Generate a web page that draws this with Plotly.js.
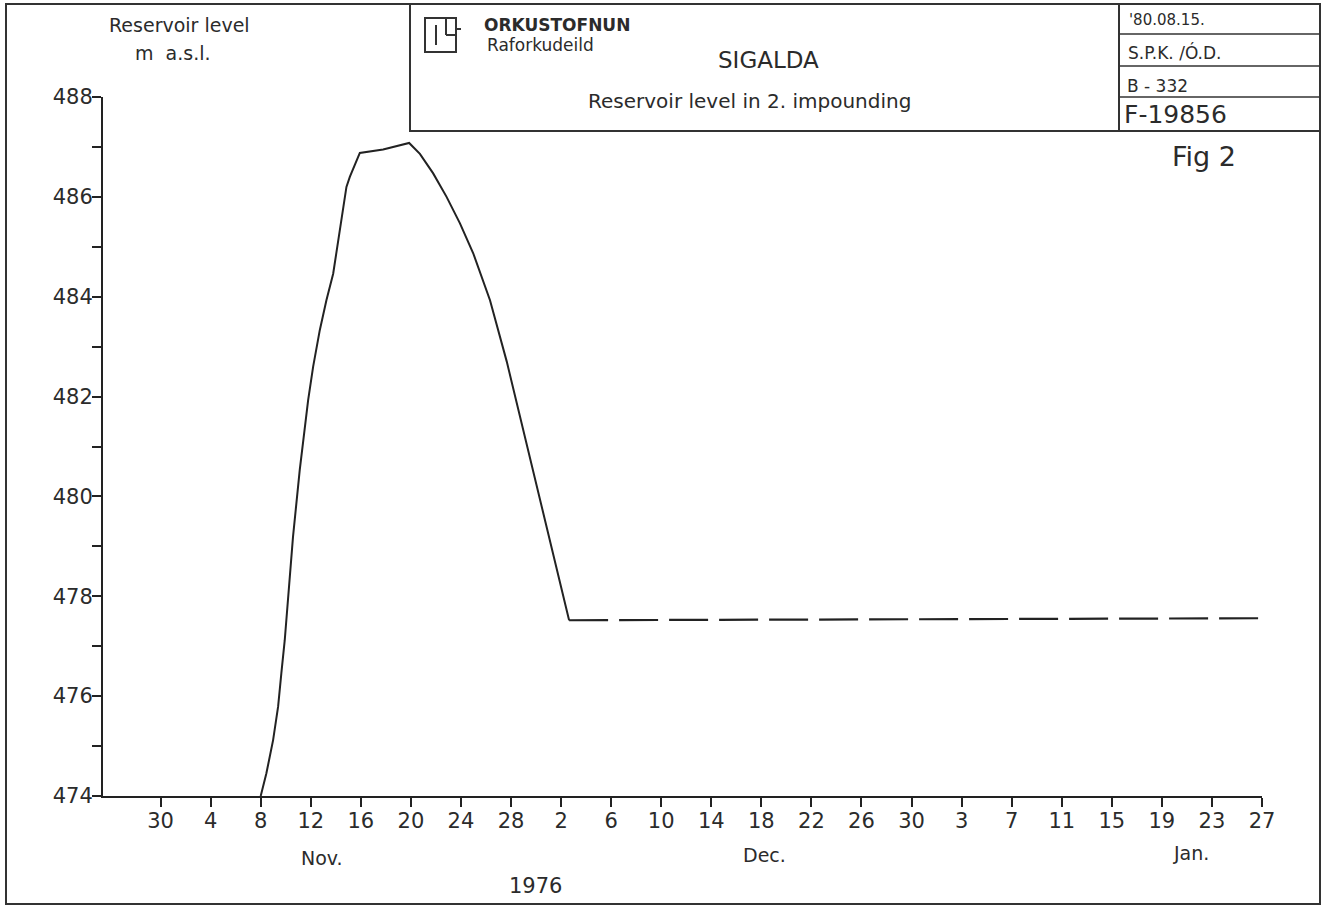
<!DOCTYPE html>
<html>
<head>
<meta charset="utf-8">
<script src="https://cdn.plot.ly/plotly-3.0.1.min.js"></script>
<style>
  html, body { margin: 0; padding: 0; background: #ffffff; }
  #chart { width: 1327px; height: 908px; }
</style>
</head>
<body>
<div id="chart"></div>
<script>
// Sigalda reservoir, second impounding (autumn 1976).
// Time is counted in days from 8 November 1976.
const riseFallDays = [0, 0.45, 0.99, 1.39, 1.65, 1.92, 2.58, 3.12, 3.79, 4.19, 4.72, 5.25,
  5.79, 6.32, 6.85, 7.12, 7.92, 9.78, 11.86, 12.72, 13.78, 14.85, 15.92, 16.98, 18.32,
  19.66, 20.72, 21.78, 23.69, 24.64];
const riseFallLevel = [474.0, 474.45, 475.12, 475.79, 476.46, 477.12, 479.19, 480.53, 481.93,
  482.6, 483.33, 483.93, 484.46, 485.33, 486.2, 486.4, 486.88, 486.95, 487.08, 486.86,
  486.47, 486.0, 485.47, 484.87, 483.93, 482.7, 481.6, 480.45, 478.5, 477.52];

// Level held afterwards (drawn dashed)
const heldDays = [24.64, 80];
const heldLevel = [477.52, 477.56];

// Date ticks every fourth day
const tickDays = [-8, -4, 0, 4, 8, 12, 16, 20, 24, 28, 32, 36, 40, 44, 48, 52, 56, 60, 64, 68, 72, 76, 80];
const tickLabels = ['30', '4', '8', '12', '16', '20', '24', '28', '2', '6', '10', '14', '18', '22',
  '26', '30', '3', '7', '11', '15', '19', '23', '27'];

// Plot frame in pixels
const PAGE_W = 1327, PAGE_H = 908;
const L = 103, R = 1262, T = 97, B = 796;
const W = R - L, H = B - T;
const px = x => (x - L) / W;          // pixel x -> paper x
const py = y => (B - y) / H;          // pixel y -> paper y

const FONT = 'DejaVu Sans, Liberation Sans, sans-serif';
const INK = '#2b2b2b';
const LINE = '#222222';

const traces = [
  {
    x: riseFallDays, y: riseFallLevel, type: 'scatter', mode: 'lines',
    line: { color: LINE, width: 2 }, hoverinfo: 'skip', showlegend: false
  },
  {
    x: heldDays, y: heldLevel, type: 'scatter', mode: 'lines',
    line: { color: LINE, width: 2.2, dash: '39px,11px' }, hoverinfo: 'skip', showlegend: false
  }
];

function text(t, x, y, size, opts) {
  return Object.assign({
    text: t, xref: 'paper', yref: 'paper', x: px(x), y: py(y),
    xanchor: 'center', yanchor: 'middle', showarrow: false,
    font: { family: FONT, size: size, color: INK }
  }, opts || {});
}
function rect(x0, y0, x1, y1, w) {
  return { type: 'rect', xref: 'paper', yref: 'paper', x0: px(x0), x1: px(x1), y0: py(y0), y1: py(y1),
    line: { color: '#333', width: w || 2 }, fillcolor: 'rgba(0,0,0,0)', layer: 'above' };
}
function seg(x0, y0, x1, y1, w) {
  return { type: 'line', xref: 'paper', yref: 'paper', x0: px(x0), x1: px(x1), y0: py(y0), y1: py(y1),
    line: { color: '#333', width: w || 2 }, layer: 'above' };
}

const shapes = [
  rect(6, 4, 1320, 904, 2),          // sheet border
  rect(410, 4, 1320, 131, 2),        // title block
  seg(1119, 4, 1119, 131, 2),        // right column of the title block
  seg(1119, 34, 1320, 34, 1.5),
  seg(1119, 66, 1320, 66, 1.5),
  seg(1119, 97, 1320, 97, 1.5),
  // ORKUSTOFNUN mark
  rect(425, 18, 456, 52, 2),
  seg(436, 25, 436, 45, 2),
  seg(446, 18, 446, 35, 2),
  seg(446, 35, 456, 35, 2),
  seg(456, 29, 461, 29, 2)
];

const annotations = [
  text('Reservoir level', 179, 25, 19),
  text('m  a.s.l.', 173, 53, 19),
  text('<b>ORKUSTOFNUN</b>', 482, 25, 17, { xanchor: 'left' }),
  text('Raforkudeild', 485, 45, 17, { xanchor: 'left' }),
  text('SIGALDA', 768, 60, 23),
  text('Reservoir level in 2. impounding', 749, 101, 20),
  text("'80.08.15.", 1127, 20, 15, { xanchor: 'left' }),
  text('S.P.K. /Ó.D.', 1126, 52, 17, { xanchor: 'left' }),
  text('B - 332', 1125, 86, 17, { xanchor: 'left' }),
  text('F-19856', 1122, 114, 25, { xanchor: 'left' }),
  text('Fig 2', 1204, 156, 27),
  text('Nov.', 322, 858, 19),
  text('Dec.', 764, 855, 19),
  text('Jan.', 1191, 853, 19),
  text('1976', 535, 886, 21)
];

const layout = {
  width: PAGE_W, height: PAGE_H, autosize: false,
  margin: { l: L, r: PAGE_W - R, t: T, b: PAGE_H - B, pad: 0 },
  paper_bgcolor: '#ffffff', plot_bgcolor: '#ffffff',
  showlegend: false,
  xaxis: {
    range: [-12.6, 80], tickmode: 'array', tickvals: tickDays, ticktext: tickLabels,
    ticks: 'outside', ticklen: 9, tickwidth: 2, tickcolor: LINE,
    ticklabelstandoff: -4,
    showline: true, linecolor: LINE, linewidth: 2,
    showgrid: false, zeroline: false, fixedrange: true,
    tickfont: { family: FONT, size: 21, color: INK }
  },
  yaxis: {
    range: [474, 488], tick0: 474, dtick: 2,
    ticks: 'outside', ticklen: 9, tickwidth: 2, tickcolor: LINE,
    ticklabelstandoff: -5,
    minor: { dtick: 1, ticks: 'outside', ticklen: 9, tickwidth: 2, tickcolor: LINE, showgrid: false },
    showline: true, linecolor: LINE, linewidth: 2,
    showgrid: false, zeroline: false, fixedrange: true,
    tickfont: { family: FONT, size: 21, color: INK }
  },
  shapes: shapes,
  annotations: annotations
};

Plotly.newPlot('chart', traces, layout, { displayModeBar: false, staticPlot: true });
</script>
</body>
</html>
